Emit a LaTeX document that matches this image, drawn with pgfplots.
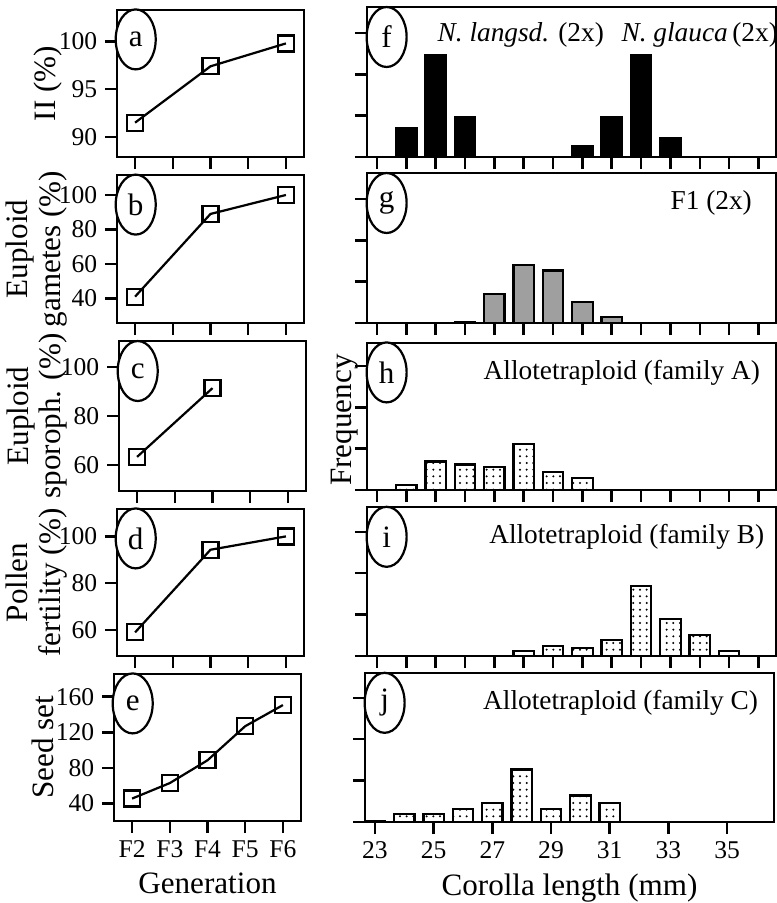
\documentclass[border=0pt]{standalone}
\usepackage{pgfplots}
\pgfplotsset{compat=1.18}
\usepackage{fontspec}
\setmainfont{Liberation Serif}
\usetikzlibrary{shapes.geometric,patterns}
\def\u{0.45pt}
\pgfplotsset{
  base/.style={scale only axis, clip=false, axis line style={line width=1.1pt},
    every tick/.style={line width=1.1pt,black}, tick align=outside, major tick length=5.4pt,
    xtick pos=bottom, ytick pos=left, /pgf/number format/assume math mode=true,
    tick label style={font=\fontsize{11.5}{13}\selectfont},
    label style={font=\fontsize{14}{14.5}\selectfont, align=center},
    anchor=north west},
  left/.style={base, width=187*\u, xmin=1.52, xmax=6.48, xtick={2,3,4,5,6}, xticklabels={}},
  yl/.style={ylabel style={at={(axis description cs:#1,0.5)}, anchor=center}},
  right/.style={base, width=409*\u, xmin=22.66, xmax=36.6, ymin=0, xtick={23,...,36}, xticklabels={},
    ytick={0,1,2,3}, yticklabels={}},
  ln/.style={black, line width=1pt, mark=square, mark size=3.6pt, mark options={line width=1pt, fill=white}},
  br/.style={ybar, bar width=0.7, line width=1pt, draw=black},
}
\newcommand\lab[2]{\node[draw, ellipse, line width=1pt, minimum width=18pt, minimum height=27pt, inner sep=0pt, fill=white, font=\fontsize{14}{16}\selectfont] at (axis description cs:#1) {#2};}
\newcommand\ann{\fontsize{12.3}{14}\selectfont}
\begin{document}
\begin{tikzpicture}
\path[use as bounding box] (0,0) rectangle (777*\u,-903*\u);
% left
\begin{axis}[left, yl=-0.37, at={(117*\u,-10*\u)}, height=147*\u, ymin=87.9, ymax=103.3, ytick={90,95,100}, ylabel={II (\%)}]
\addplot[ln] coordinates {(2,91.5) (4,97.4) (6,99.8)};
\lab{0.1,0.8}{a}
\end{axis}
\begin{axis}[left, yl=-0.43, at={(117*\u,-175*\u)}, height=148*\u, ymin=25.7, ymax=111.6, ytick={40,60,80,100}, ylabel={Euploid\\gametes (\%)}]
\addplot[ln] coordinates {(2,41) (4,89) (6,100)};
\lab{0.1,0.8}{b}
\end{axis}
\begin{axis}[left, yl=-0.44, at={(119*\u,-341*\u)}, height=150*\u, ymin=49.5, ymax=110.6, ytick={60,80,100}, ylabel={Euploid\\sporoph. (\%)}]
\addplot[ln] coordinates {(2,63.4) (4,91.4)};
\lab{0.1,0.8}{c}
\end{axis}
\begin{axis}[left, yl=-0.43, at={(117*\u,-509*\u)}, height=147*\u, ymin=48.9, ymax=111.7, ytick={60,80,100}, ylabel={Pollen\\fertility (\%)}]
\addplot[ln] coordinates {(2,59) (4,94.3) (6,100)};
\lab{0.1,0.8}{d}
\end{axis}
\begin{axis}[left, yl=-0.38, at={(114*\u,-674*\u)}, height=147*\u, ymin=20.4, ymax=185.5, ytick={40,80,120,160},
  xticklabels={F2,F3,F4,F5,F6}, ylabel={Seed set}, xlabel={Generation}]
\addplot[ln] coordinates {(2,45.6) (3,63) (4,88.6) (5,126.9) (6,150.6)};
\lab{0.1,0.8}{e}
\end{axis}
% right
\begin{axis}[right, at={(367*\u,-7*\u)}, height=150*\u, ymax=3.63]
\addplot[br, fill=black] coordinates {(24,0.70) (25,2.47) (26,0.96) (30,0.27) (31,0.96) (32,2.47) (33,0.46)};
\lab{0.048,0.8}{f}
\node[font=\ann] at (axis cs:27.9,2.95) {\textit{N. langsd.} (2x)};
\node[font=\ann] at (axis cs:34.0,2.95) {\textit{N. glauca}\,(2x)};
\end{axis}
\begin{axis}[right, at={(367*\u,-173*\u)}, height=150*\u, ymax=3.63]
\addplot[br, fill=gray!75] coordinates {(26,0.03) (27,0.71) (28,1.40) (29,1.27) (30,0.51) (31,0.15)};
\lab{0.048,0.8}{g}
\node[anchor=east, font=\ann] at (axis description cs:0.96,0.8) {F1 (2x)};
\end{axis}
\begin{axis}[right, at={(367*\u,-343*\u)}, height=147*\u, ymax=3.56]
\addplot[br, pattern=dots] coordinates {(24,0.12) (25,0.69) (26,0.62) (27,0.56) (28,1.11) (29,0.43) (30,0.30)};
\lab{0.048,0.8}{h}
\node[anchor=east, font=\ann] at (axis description cs:0.98,0.8) {Allotetraploid (family A)};
\end{axis}
\node[rotate=90, font=\fontsize{14}{16}\selectfont] at (345*\u,-420*\u) {Frequency};
\begin{axis}[right, at={(367*\u,-507*\u)}, height=149*\u, ymax=3.6]
\addplot[br, pattern=dots] coordinates {(28,0.13) (29,0.25) (30,0.20) (31,0.39) (32,1.69) (33,0.89) (34,0.51) (35,0.13)};
\lab{0.048,0.8}{i}
\node[anchor=east, font=\ann] at (axis description cs:0.99,0.8) {Allotetraploid (family B)};
\end{axis}
\begin{axis}[right, at={(365*\u,-673*\u)}, height=149*\u, ymax=3.6, xtick={23,25,...,35}, xticklabels={23,25,27,29,31,33,35},
  xlabel={Corolla length (mm)}]
\addplot[br, pattern=dots] coordinates {(23,0.02) (24,0.20) (25,0.20) (26,0.31) (27,0.45) (28,1.27) (29,0.31) (30,0.64) (31,0.45)};
\lab{0.048,0.8}{j}
\node[anchor=east, font=\ann] at (axis description cs:0.98,0.8) {Allotetraploid (family C)};
\end{axis}
\end{tikzpicture}
\end{document}
